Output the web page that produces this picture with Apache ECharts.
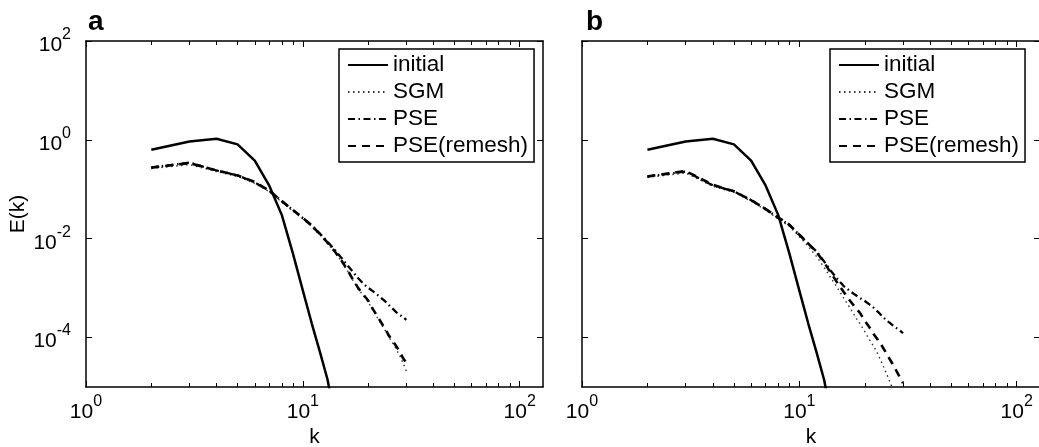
<!DOCTYPE html>
<html>
<head>
<meta charset="utf-8">
<title>Energy spectra E(k)</title>
<script src="https://cdn.jsdelivr.net/npm/echarts@6/dist/echarts.min.js"></script>
<style>
  html, body { margin: 0; padding: 0; background: #fff; }
  #chart { width: 1039px; height: 447px; }
</style>
</head>
<body>
<div id="chart"></div>
<script>
// Wavenumbers of the spectral shells
const wavenumbers = [2, 3, 4, 5, 6, 7, 8, 9, 10, 11, 12, 13, 14, 15, 16, 17, 18, 19, 20,
                     21, 22, 23, 24, 25, 26, 27, 28, 29, 30];
const initialWavenumbers = [2, 3, 4, 5, 6, 7, 8, 9, 10, 11, 12, 13, 14];

// Initial spectrum (same in both panels)
const initialE = [0.63, 0.93, 1.05, 0.81, 0.38, 0.118, 0.030, 5.0e-3, 8.9e-4, 1.9e-4,
                  5.0e-5, 1.4e-5, 2.5e-6];

// Panel a
const sgmA = [0.263, 0.316, 0.229, 0.182, 0.132, 0.0891, 0.0550, 0.0363, 0.0251, 0.0174,
              0.0117, 7.94e-3, 5.37e-3, 3.55e-3, 2.29e-3, 1.45e-3, 9.55e-4, 7.08e-4, 5.25e-4,
              3.63e-4, 2.57e-4, 1.86e-4, 1.38e-4, 1.00e-4, 7.59e-5, 5.75e-5, 4.27e-5, 3.02e-5, 2.09e-5];
const pseA = [0.275, 0.347, 0.240, 0.191, 0.138, 0.0933, 0.0575, 0.0380, 0.0263, 0.0186,
              0.0126, 8.71e-3, 6.03e-3, 4.17e-3, 2.95e-3, 2.14e-3, 1.58e-3, 1.23e-3, 1.02e-3,
              8.71e-4, 7.41e-4, 6.31e-4, 5.37e-4, 4.47e-4, 3.80e-4, 3.24e-4, 2.88e-4, 2.57e-4, 2.29e-4];
const remeshA = [0.275, 0.339, 0.240, 0.191, 0.141, 0.0933, 0.0575, 0.0380, 0.0263, 0.0182,
                 0.0123, 8.32e-3, 5.62e-3, 3.72e-3, 2.40e-3, 1.51e-3, 1.00e-3, 7.41e-4, 5.62e-4,
                 3.80e-4, 2.75e-4, 2.00e-4, 1.48e-4, 1.07e-4, 8.51e-5, 6.61e-5, 5.13e-5, 3.80e-5, 3.09e-5];

// Panel b
const sgmB = [0.174, 0.214, 0.115, 0.0871, 0.0575, 0.0380, 0.0251, 0.0178, 0.0110, 6.92e-3,
              4.37e-3, 2.63e-3, 1.58e-3, 1.00e-3, 6.31e-4, 4.17e-4, 2.75e-4, 1.91e-4, 1.32e-4,
              9.12e-5, 6.61e-5, 4.57e-5, 3.02e-5, 2.00e-5, 1.32e-5, 8.91e-6, 6.03e-6, 3.98e-6, 2.82e-6];
const pseB = [0.182, 0.229, 0.120, 0.0912, 0.0603, 0.0398, 0.0263, 0.0191, 0.0120, 7.94e-3,
              5.50e-3, 3.47e-3, 2.19e-3, 1.51e-3, 1.10e-3, 8.91e-4, 7.41e-4, 6.31e-4, 5.50e-4,
              4.68e-4, 3.98e-4, 3.31e-4, 2.75e-4, 2.29e-4, 2.00e-4, 1.74e-4, 1.55e-4, 1.38e-4, 1.23e-4];
const remeshB = [0.182, 0.234, 0.123, 0.0912, 0.0603, 0.0398, 0.0269, 0.0191, 0.0120, 7.94e-3,
                 5.37e-3, 3.31e-3, 2.00e-3, 1.26e-3, 8.32e-4, 5.75e-4, 4.17e-4, 3.16e-4, 2.19e-4,
                 1.62e-4, 1.17e-4, 8.91e-5, 6.76e-5, 5.01e-5, 3.72e-5, 2.82e-5, 2.09e-5, 1.58e-5, 1.20e-5];

// Tick positions
const xMajorTicks = [1, 10, 100];
const xMinorTicks = [2, 3, 4, 5, 6, 7, 8, 9, 20, 30, 40, 50, 60, 70, 80, 90];
const yMajorTicks = [1e-4, 1e-2, 1, 1e2];

const seriesNames = ['initial', 'SGM', 'PSE', 'PSE(remesh)'];
const panelLabels = ['a', 'b'];

const FONT = '"Liberation Sans", Arial, Helvetica, sans-serif';
const X_RANGE = [1, 128];
const Y_RANGE = [1e-5, 1e2];

const lineStyles = {
  'initial':     { color: '#000', width: 2.5, type: 'solid' },
  'SGM':         { color: '#333', width: 1.4, type: [1.5, 3.5] },
  'PSE':         { color: '#000', width: 2.3, type: [7, 3.5, 1.5, 3.5] },
  'PSE(remesh)': { color: '#000', width: 2.6, type: [8, 6] }
};

// "10" with a raised exponent
const powerLabel = v => '{b|10}{e|' + Math.round(Math.log10(v)) + '}';
const powerRich = {
  b: { fontSize: 21, fontFamily: FONT, color: '#000', verticalAlign: 'bottom' },
  e: { fontSize: 16, fontFamily: FONT, color: '#000', verticalAlign: 'top', padding: [0, 0, 13, 0] }
};

// Fixed plot boxes: no automatic shrinking for labels
const grids = [
  { left: 86, top: 41, width: 457, height: 346, outerBoundsMode: 'none', containLabel: false },
  { left: 582, top: 41, width: 458, height: 346, outerBoundsMode: 'none', containLabel: false }
];

const frameLine = { show: true, lineStyle: { color: '#000', width: 1.5 } };
const tickLine = { color: '#000', width: 1 };

function xAxesFor(gridIndex) {
  const base = {
    type: 'log', logBase: 10, min: X_RANGE[0], max: X_RANGE[1], gridIndex,
    splitLine: { show: false }
  };
  return [
    Object.assign({}, base, {
      position: 'bottom', axisLine: frameLine,
      name: 'k', nameLocation: 'middle', nameGap: 40, nameMoveOverlap: false,
      nameTextStyle: { fontSize: 21, fontFamily: FONT, color: '#000' },
      axisTick: { inside: true, length: 6, customValues: xMajorTicks, lineStyle: tickLine },
      axisLabel: { show: true, customValues: xMajorTicks, margin: 7, formatter: powerLabel, rich: powerRich }
    }),
    Object.assign({}, base, {
      position: 'bottom', axisLine: { show: false },
      axisTick: { inside: true, length: 4, customValues: xMinorTicks, lineStyle: tickLine },
      axisLabel: { show: false }
    }),
    Object.assign({}, base, {
      position: 'top', axisLine: frameLine,
      axisTick: { inside: true, length: 6, customValues: xMajorTicks, lineStyle: tickLine },
      axisLabel: { show: false }
    }),
    Object.assign({}, base, {
      position: 'top', axisLine: { show: false },
      axisTick: { inside: true, length: 4, customValues: xMinorTicks, lineStyle: tickLine },
      axisLabel: { show: false }
    })
  ];
}

function yAxesFor(gridIndex, showLabel) {
  const base = {
    type: 'log', logBase: 10, min: Y_RANGE[0], max: Y_RANGE[1], gridIndex,
    splitLine: { show: false }, axisLine: frameLine
  };
  return [
    Object.assign({}, base, {
      position: 'left',
      name: showLabel ? 'E(k)' : '', nameLocation: 'middle', nameGap: 57, nameRotate: 90,
      nameMoveOverlap: false,
      nameTextStyle: { fontSize: 21, fontFamily: FONT, color: '#000' },
      axisTick: { inside: true, length: 6, customValues: yMajorTicks, lineStyle: tickLine },
      axisLabel: { show: showLabel, customValues: yMajorTicks, margin: 15, formatter: powerLabel, rich: powerRich }
    }),
    Object.assign({}, base, {
      position: 'right',
      axisTick: { inside: true, length: 6, customValues: yMajorTicks, lineStyle: tickLine },
      axisLabel: { show: false }
    })
  ];
}

function pairs(ks, vals) {
  return vals.map((v, i) => [ks[i], v]);
}

function panelSeries(panelIndex, sgm, pse, remesh) {
  const xi = panelIndex * 4;
  const yi = panelIndex * 2;
  const sets = {
    'initial': pairs(initialWavenumbers, initialE),
    'SGM': pairs(wavenumbers, sgm),
    'PSE': pairs(wavenumbers, pse),
    'PSE(remesh)': pairs(wavenumbers, remesh)
  };
  return seriesNames.map(name => ({
    type: 'line', name, xAxisIndex: xi, yAxisIndex: yi,
    data: sets[name], symbol: 'none', showSymbol: false, clip: true,
    animation: false, silent: true,
    lineStyle: Object.assign({}, lineStyles[name]),
    itemStyle: { color: lineStyles[name].color }
  }));
}

function legendFor(left) {
  return {
    show: true, orient: 'vertical', left, top: 49,
    data: seriesNames, selectedMode: false,
    backgroundColor: '#fff', borderColor: '#000', borderWidth: 1.5, borderRadius: 0,
    padding: [4, 6, 4, 8], itemGap: 3, itemWidth: 40, itemHeight: 14,
    // line sample only, no marker on it
    itemStyle: { color: 'rgba(0,0,0,0)', borderWidth: 0, opacity: 0 },
    textStyle: { fontSize: 22.5, fontFamily: FONT, color: '#000', lineHeight: 24 }
  };
}

const chart = echarts.init(document.getElementById('chart'), null, { renderer: 'canvas' });
chart.setOption({
  backgroundColor: '#fff',
  animation: false,
  grid: grids,
  xAxis: xAxesFor(0).concat(xAxesFor(1)),
  yAxis: yAxesFor(0, true).concat(yAxesFor(1, false)),
  legend: [legendFor(339), legendFor(830)],
  series: panelSeries(0, sgmA, pseA, remeshA).concat(panelSeries(1, sgmB, pseB, remeshB)),
  graphic: [
    { type: 'text', left: 88, top: 8, style: { text: panelLabels[0], font: 'bold 28px ' + FONT, fill: '#000' } },
    { type: 'text', left: 586, top: 8, style: { text: panelLabels[1], font: 'bold 28px ' + FONT, fill: '#000' } }
  ]
});
</script>
</body>
</html>
